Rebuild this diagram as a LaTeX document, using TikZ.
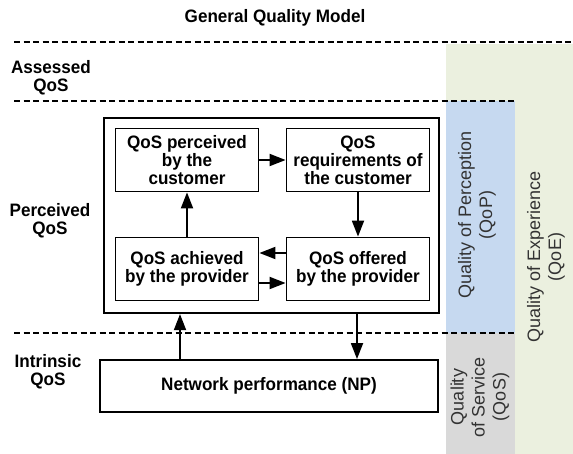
\documentclass[tikz,border=0pt]{standalone}
\usepackage{fontspec}
\setmainfont{Liberation Sans}
\newfontfamily\narrowsans{Liberation Sans}[FakeStretch=0.95]
\usetikzlibrary{arrows.meta}

\definecolor{qoegreen}{HTML}{EBF0DF}
\definecolor{qopblue}{HTML}{C6D9F0}
\definecolor{qosgrey}{HTML}{D9D9D9}

\begin{document}
\begin{tikzpicture}[x=1pt,y=-1pt,
    lbl/.style={font=\narrowsans\bfseries\fontsize{18}{18}\selectfont, align=center},
    qbox/.style={draw, line width=1.8pt, lbl, minimum width=143pt, minimum height=63pt, inner sep=0pt},
    side/.style={font=\fontsize{18}{21}\selectfont, text=black!80, align=center, rotate=90},
    sep/.style={line width=2.8pt, dash pattern=on 6pt off 3.5pt},
    arr/.style={line width=1.8pt, -{Triangle[length=16pt,width=12pt]}}]
    \useasboundingbox (0,0) rectangle (573,454);
    % Coloured bands on the right
    \fill[qoegreen] (446,44) rectangle (573,454);
    \fill[qopblue] (446,101) rectangle (515,333);
    \fill[qosgrey] (446,333) rectangle (515,454);
    \node[side] (qop) at (477,215) {Quality of Perception\\(QoP)};
    \node[side] (qoe) at (546,257) {Quality of Experience\\(QoE)};
    \node[side] (qos) at (480,397) {Quality\\of Service\\(QoS)};
    % Dashed separators between the levels
    \draw[sep] (14,42) -- (573,42);
    \draw[sep] (14,101) -- (515,101);
    \draw[sep] (14,333) -- (515,333);
    % Title and level names
    \node[lbl] (title) at (275,18) {General Quality Model};
    \node[lbl] (assessed) at (51,78) {Assessed\\QoS};
    \node[lbl] (perceived) at (50,221) {Perceived\\QoS};
    \node[lbl] (intrinsic) at (48,372) {Intrinsic\\QoS};
    % Frame round the four viewpoints
    \node[draw, line width=2.2pt, minimum width=335pt, minimum height=195pt] (frame) at (271.5,215.5) {};
    \node[qbox] (tl) at (187,160) {QoS perceived\\by the\\customer};
    \node[qbox] (tr) at (358,160) {QoS\\requirements of\\the customer};
    \node[qbox] (bl) at (187,269) {QoS achieved\\by the provider};
    \node[qbox] (br) at (358,269) {QoS offered\\by the provider};
    % Network performance
    \node[draw, line width=1.8pt, lbl, minimum width=338pt, minimum height=52pt] (np) at (269,386) {Network performance (NP)};
    % Arrows
    \draw[arr] (tl) -- (tr);
    \draw[arr] (tr) -- (br);
    \draw[arr] (bl) -- (tl);
    \draw[arr] ([yshift=16pt]br.west) -- ([yshift=16pt]bl.east);
    \draw[arr] ([yshift=-14pt]bl.east) -- ([yshift=-14pt]br.west);
    \draw[arr] ([xshift=-89pt]np.north) -- ([xshift=-89pt]np.north |- frame.south);
    \draw[arr] ([xshift=88pt]np.north |- frame.south) -- ([xshift=88pt]np.north);
\end{tikzpicture}
\end{document}
